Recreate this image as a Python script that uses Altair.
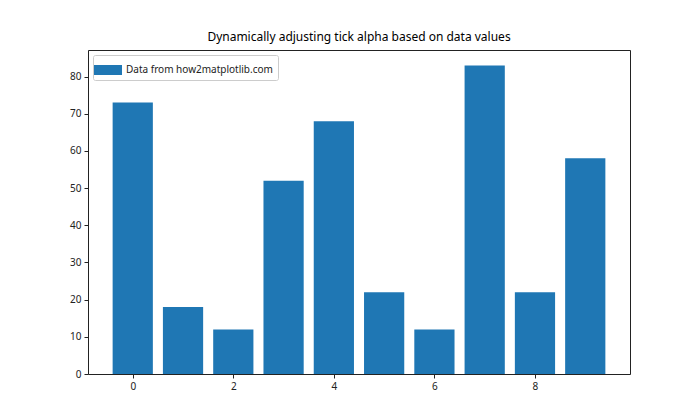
import altair as alt
import pandas as pd

positions = [0, 1, 2, 3, 4, 5, 6, 7, 8, 9]
values = [73, 18, 12, 52, 68, 22, 12, 83, 22, 58]
series_name = "Data from how2matplotlib.com"
bar_width = 0.8

df = pd.DataFrame({
    "pos": positions,
    "value": values,
    "series": [series_name] * len(positions),
})
df["x0"] = df["pos"] - bar_width / 2
df["x1"] = df["pos"] + bar_width / 2

font = "Noto Sans"
xscale = alt.Scale(domain=[-0.89, 9.89], nice=False, zero=False)
yscale = alt.Scale(domain=[0, 87.15], nice=False)

bars = alt.Chart(df).mark_bar(color="#1f77b4").encode(
    x=alt.X("x0:Q", scale=xscale,
            axis=alt.Axis(values=[0, 2, 4, 6, 8], title=None, grid=False, format="d",
                          labelFont=font, labelFontSize=10, labelColor="#222",
                          tickSize=4, tickColor="#222", domainColor="#222", labelPadding=3)),
    x2="x1:Q",
    y=alt.Y("value:Q", scale=yscale,
            axis=alt.Axis(values=[0, 10, 20, 30, 40, 50, 60, 70, 80], title=None, grid=False,
                          labelFont=font, labelFontSize=10, labelColor="#222",
                          tickSize=4, tickColor="#222", domainColor="#222", labelPadding=3)),
    y2=alt.datum(0),
    fill=alt.Fill("series:N", scale=alt.Scale(range=["#1f77b4"]),
                  legend=alt.Legend(title=None, orient="top-left", offset=5,
                                    symbolType="M-1.4,-0.5H1.4V0.5H-1.4Z", symbolSize=400,
                                    symbolStrokeWidth=0, labelFont=font, labelFontSize=10,
                                    labelColor="#222", fillColor="white", strokeColor="#ccc",
                                    cornerRadius=2, padding=5, labelOffset=8)),
)

frame = alt.Chart(df).mark_bar(opacity=0).encode(
    x=alt.X("x0:Q", scale=xscale,
            axis=alt.Axis(orient="top", labels=False, ticks=False, grid=False, title=None,
                          domainColor="#222")),
    x2="x1:Q",
    y=alt.Y("value:Q", scale=yscale,
            axis=alt.Axis(orient="right", labels=False, ticks=False, grid=False, title=None,
                          domainColor="#222")),
    y2=alt.datum(0),
)

chart = alt.layer(bars, frame).resolve_axis(x="independent", y="independent").properties(
    width=542, height=324,
    title=alt.TitleParams("Dynamically adjusting tick alpha based on data values",
                          font=font, fontSize=12, fontWeight="normal", color="black",
                          anchor="middle", offset=6),
    padding={"left": 80, "top": 42, "right": 62, "bottom": 38},
    autosize=alt.AutoSizeParams(type="none"),
).configure_view(stroke=None).configure(background="white")

chart.save("out.html", embed_options={"renderer": "svg", "actions": False})
